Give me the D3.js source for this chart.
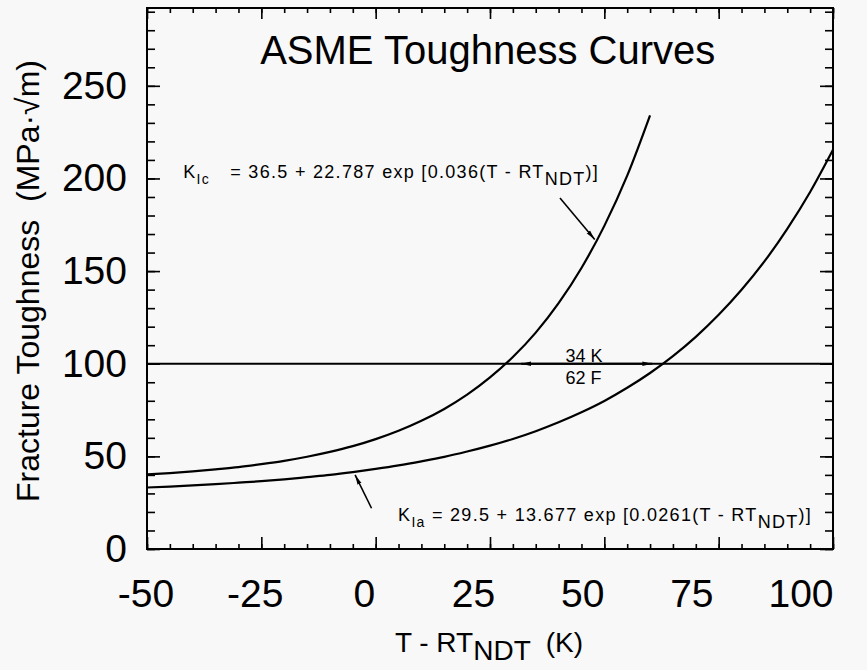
<!DOCTYPE html>
<html>
<head>
<meta charset="utf-8">
<script src="https://cdn.jsdelivr.net/npm/d3@7"></script>
<style>
  body { margin: 0; background: #f8f8f8; }
  svg { display: block; font-family: "Liberation Sans", Arial, sans-serif; }
  .axis path { display: none; }
  .axis line { stroke: #000; stroke-width: 1.6; }
  .axis text { font-size: 39px; fill: #000; }
</style>
</head>
<body>
<svg width="867" height="670"></svg>
<script>
// values (T - RT_NDT in K, toughness in MPa*sqrt(m))
const kicT = [-50,-45,-40,-35,-30,-25,-20,-15,-10,-5,0,5,10,15,20,25,30,35,40,45,50,55,60];
const kicVal = [40.3,41.0,41.9,43.0,44.2,45.8,47.6,49.8,52.4,55.5,59.3,63.8,69.2,75.6,83.3,92.6,103.6,116.8,132.7,151.7,174.4,201.5,234.1];

const kiaT = [-50,-45,-40,-35,-30,-25,-20,-15,-10,-5,0,5,10,15,20,25,30,35,40,45,50,55,60,65,70,75,80,85,90,95,100];
const kiaVal = [33.2,33.7,34.3,35.0,35.8,36.6,37.6,38.8,40.0,41.5,43.2,45.1,47.3,49.7,52.6,55.8,59.4,63.6,68.4,73.8,79.9,87.0,95.0,104.1,114.5,126.4,139.9,155.2,172.8,192.7,215.5];

const refLevel = 100;
const crossT = [28.5, 62.8];   // where the curves meet the 100 line

const xMajor = [-50,-25,0,25,50,75,100];
const xLabels = ["-50","-25","0","25","50","75","100"];
const xMinor = d3.range(-50, 101, 5);
const yMajor = [0,50,100,150,200,250];
const yMinor = d3.range(0, 291, 10);

const margin = {top: 8, right: 34, bottom: 121, left: 147};
const width = 867 - margin.left - margin.right;
const height = 670 - margin.top - margin.bottom;

const svg = d3.select("svg");
const g = svg.append("g")
  .attr("transform", "translate(" + margin.left + "," + margin.top + ")");

let x = d3.scaleLinear().domain([-50, 100]).range([0, width]);
let y = d3.scaleLinear().domain([0, 292]).range([height, 0]);
// the printed tick numbers sit a little tighter than the ticks themselves
let xLab = d3.scaleLinear().domain([-50, 100]).range([-1, 654]);

// arrow head
svg.append("defs").append("marker")
  .attr("id", "arr")
  .attr("viewBox", "0 0 10 6")
  .attr("refX", 10).attr("refY", 3)
  .attr("markerWidth", 10).attr("markerHeight", 6)
  .attr("markerUnits", "userSpaceOnUse")
  .attr("orient", "auto")
  .append("path").attr("d", "M0,0.8L10,3L0,5.2Z").attr("fill", "#000");

// bottom axis ticks
g.append("g").attr("class", "axis")
  .attr("transform", "translate(0," + height + ")")
  .call(d3.axisBottom(x).tickValues(xMinor).tickSizeInner(-5).tickSizeOuter(0).tickFormat(""));
g.append("g").attr("class", "axis")
  .attr("transform", "translate(0," + height + ")")
  .call(d3.axisBottom(x).tickValues(xMajor).tickSizeInner(-12).tickSizeOuter(0).tickFormat(""));
// bottom tick numbers
g.append("g")
  .selectAll("text")
  .data(xMajor)
  .enter()
  .append("text")
    .attr("x", function(d) { return xLab(d); })
    .attr("y", height + 58)
    .attr("text-anchor", "middle")
    .style("font-size", "39px")
    .text(function(d, i) { return xLabels[i]; });

// top axis
g.append("g").attr("class", "axis")
  .call(d3.axisTop(x).tickValues(xMinor).tickSizeInner(-5).tickSizeOuter(0).tickFormat(""));
g.append("g").attr("class", "axis")
  .call(d3.axisTop(x).tickValues(xMajor).tickSizeInner(-11).tickSizeOuter(0).tickFormat(""));

// left axis
g.append("g").attr("class", "axis")
  .call(d3.axisLeft(y).tickValues(yMinor).tickSizeInner(-8).tickSizeOuter(0).tickFormat(""));
g.append("g").attr("class", "axis")
  .call(d3.axisLeft(y).tickValues(yMajor).tickSizeInner(-13).tickSizeOuter(0).tickPadding(20));
// right axis
g.append("g").attr("class", "axis")
  .attr("transform", "translate(" + width + ",0)")
  .call(d3.axisRight(y).tickValues(yMinor).tickSizeInner(-8).tickSizeOuter(0).tickFormat(""));
g.append("g").attr("class", "axis")
  .attr("transform", "translate(" + width + ",0)")
  .call(d3.axisRight(y).tickValues(yMajor).tickSizeInner(-13).tickSizeOuter(0).tickFormat(""));

// frame
g.append("rect")
  .attr("width", width).attr("height", height)
  .attr("fill", "none").attr("stroke", "#000").attr("stroke-width", 2);

// 100 MPa line
g.append("line")
  .attr("x1", x(-50)).attr("x2", x(100))
  .attr("y1", y(refLevel)).attr("y2", y(refLevel))
  .attr("stroke", "#000").attr("stroke-width", 1.8);

// curves
let line = d3.line()
  .x(function(d) { return x(d[0]); })
  .y(function(d) { return y(d[1]); })
  .curve(d3.curveMonotoneX);

g.append("path")
  .datum(kicT.map(function(t, i) { return [t, kicVal[i]]; }))
  .attr("d", line)
  .attr("fill", "none").attr("stroke", "#000").attr("stroke-width", 2.2);

g.append("path")
  .datum(kiaT.map(function(t, i) { return [t, kiaVal[i]]; }))
  .attr("d", line)
  .attr("fill", "none").attr("stroke", "#000").attr("stroke-width", 2.2);

// shift arrows between the curves
let mid = (crossT[0] + crossT[1]) / 2;
g.append("line")
  .attr("x1", x(mid)).attr("x2", x(crossT[0] + 3.3))
  .attr("y1", y(refLevel)).attr("y2", y(refLevel))
  .attr("stroke", "#000").attr("stroke-width", 1.8)
  .attr("marker-end", "url(#arr)");
g.append("line")
  .attr("x1", x(mid)).attr("x2", x(crossT[1] - 2.3))
  .attr("y1", y(refLevel)).attr("y2", y(refLevel))
  .attr("stroke", "#000").attr("stroke-width", 1.8)
  .attr("marker-end", "url(#arr)");

g.append("text")
  .attr("x", x(41.5)).attr("y", y(refLevel) - 2)
  .style("font-size", "18px")
  .text("34 K");
g.append("text")
  .attr("x", x(41.5)).attr("y", y(refLevel) + 20)
  .style("font-size", "18px")
  .text("62 F");

// leader arrows to the curves
g.append("line")
  .attr("x1", x(40.3)).attr("y1", y(189.5))
  .attr("x2", x(47.9)).attr("y2", y(167))
  .attr("stroke", "#000").attr("stroke-width", 1.6)
  .attr("marker-end", "url(#arr)");
g.append("line")
  .attr("x1", x(-0.9)).attr("y1", y(22))
  .attr("x2", x(-4.5)).attr("y2", y(40))
  .attr("stroke", "#000").attr("stroke-width", 1.6)
  .attr("marker-end", "url(#arr)");

// equations
function equation(tx, ty, sub, rest, eqX) {
  let t = g.append("text")
    .attr("x", x(tx)).attr("y", y(ty))
    .style("font-size", "18px")
    .style("letter-spacing", "1.3px");
  t.append("tspan").text("K");
  t.append("tspan").attr("dy", 6).style("font-size", "14px").text(sub);
  t.append("tspan").attr("x", x(eqX)).attr("dy", -6).text(rest);
  t.append("tspan").attr("dy", 7).text("NDT");
  t.append("tspan").attr("dy", -7).text(")]");
}
equation(-42.1, 200, "Ic", "= 36.5 + 22.787 exp [0.036(T - RT", -31.8);
equation(4.9, 15, "Ia", "= 29.5 + 13.677 exp [0.0261(T - RT", 12.3);

// title
g.append("text")
  .attr("x", x(24.5)).attr("y", y(262))
  .attr("text-anchor", "middle")
  .style("font-size", "40px")
  .text("ASME Toughness Curves");

// axis titles
let xt = svg.append("text")
  .attr("x", 489)
  .attr("y", 652)
  .attr("text-anchor", "middle")
  .style("font-size", "28px")
  .style("white-space", "pre");
xt.append("tspan").text("T - RT");
xt.append("tspan").attr("dy", 8).text("NDT");
xt.append("tspan").attr("dy", -8).text("  (K)");

svg.append("text")
  .attr("transform", "translate(39,281) rotate(-90)")
  .attr("text-anchor", "middle")
  .style("font-size", "32px")
  .style("white-space", "pre")
  .text("Fracture Toughness  (MPa\u00b7\u221am)");
</script>
</body>
</html>
